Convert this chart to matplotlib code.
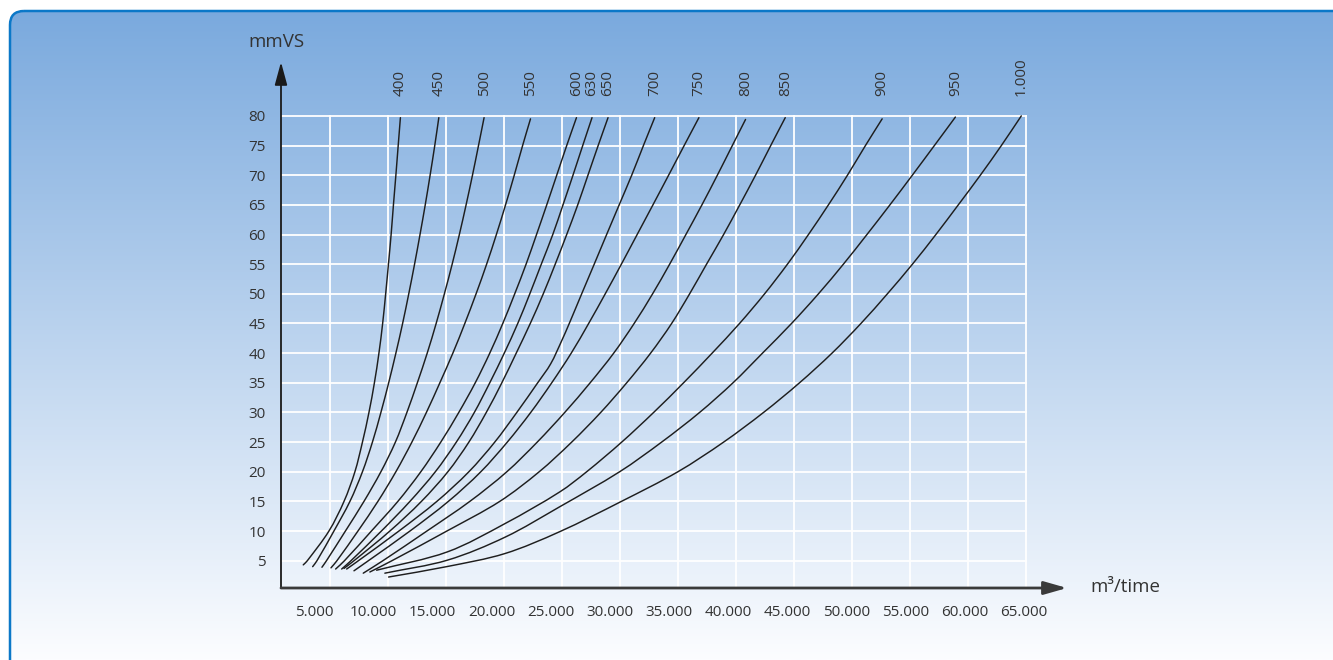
import numpy as np
import matplotlib
matplotlib.use("Agg")
import matplotlib.pyplot as plt
from matplotlib.patches import FancyBboxPatch, PathPatch
from matplotlib.path import Path
import matplotlib.transforms as mtransforms

plt.rcParams['font.family'] = ['Open Sans', 'DejaVu Sans']

# ---------------- data (flow m3/time, pressure mmVS) ----------------
curve_labels = ['400', '450', '500', '550', '600', '630', '650', '700',
                '750', '800', '850', '900', '950', '1.000']

flow_400 = [2700, 3050, 4910, 6210, 7150, 7800, 8360, 8830, 9220, 9540, 9800, 10040, 10270, 10470, 10680, 10880, 11070]
head_400 = [4.3, 5, 10, 15, 20, 25, 30, 35, 40, 45, 50, 55, 60, 65, 70, 75, 79.7]

flow_450 = [3510, 3880, 5340, 6720, 7800, 8660, 9390, 10060, 10680, 11260, 11790, 12290, 12760, 13210, 13630, 14030, 14380]
head_450 = [4.0, 5, 10, 15, 20, 25, 30, 35, 40, 45, 50, 55, 60, 65, 70, 75, 79.7]

flow_500 = [4310, 4700, 6330, 7930, 9390, 10640, 11630, 12530, 13380, 14150, 14860, 15530, 16150, 16730, 17280, 17800, 18280]
head_500 = [3.9, 5, 10, 15, 20, 25, 30, 35, 40, 45, 50, 55, 60, 65, 70, 75, 79.7]

flow_550 = [5090, 5600, 7410, 9130, 10680, 12060, 13310, 14470, 15590, 16620, 17590, 18500, 19340, 20130, 20880, 21600, 22280]
head_550 = [3.8, 5, 10, 15, 20, 25, 30, 35, 40, 45, 50, 55, 60, 65, 70, 75, 79.5]

flow_600 = [5490, 6250, 8570, 10850, 12830, 14550, 16100, 17520, 18770, 19890, 20920, 21900, 22800, 23680, 24540, 25400, 26240]
head_600 = [3.6, 5, 10, 15, 20, 25, 30, 35, 40, 45, 50, 55, 60, 65, 70, 75, 79.7]

flow_630 = [6010, 6810, 9430, 11890, 14080, 15890, 17440, 18770, 20020, 21180, 22220, 23210, 24200, 25080, 25940, 26780, 27580]
head_630 = [3.6, 5, 10, 15, 20, 25, 30, 35, 40, 45, 50, 55, 60, 65, 70, 75, 79.7]

flow_650 = [6210, 7070, 10160, 12880, 15160, 16970, 18470, 19810, 21050, 22260, 23380, 24410, 25400, 26350, 27230, 28110, 28960]
head_650 = [3.7, 5, 10, 15, 20, 25, 30, 35, 40, 45, 50, 55, 60, 65, 70, 75, 79.7]

flow_700 = [6440, 7450, 10940, 14210, 16970, 19200, 21100, 22900, 24020, 24970, 25620, 26690, 27770, 28840, 29920, 31000, 32010, 32980]
head_700 = [3.6, 5, 10, 15, 20, 25, 30, 35, 38.2, 42.1, 45, 50, 55, 60, 65, 70, 75, 79.7]

flow_750 = [7070, 8310, 11890, 15200, 18000, 20280, 22300, 24110, 25790, 27290, 28720, 30110, 31470, 32830, 34180, 35520, 36790]
head_750 = [3.3, 5, 10, 15, 20, 25, 30, 35, 40, 45, 50, 55, 60, 65, 70, 75, 79.7]

flow_800 = [7870, 9560, 13350, 17050, 20240, 22860, 25230, 27420, 29450, 31210, 32800, 34270, 35670, 37050, 38380, 39670, 40810]
head_800 = [2.9, 5, 10, 15, 20, 25, 30, 35, 40, 45, 50, 55, 60, 65, 70, 75, 79.4]

flow_850 = [8440, 10340, 15070, 19630, 23030, 25830, 28330, 30570, 32630, 34440, 35990, 37450, 38920, 40310, 41670, 42980, 44230]
head_850 = [3.1, 5, 10, 15, 20, 25, 30, 35, 40, 45, 50, 55, 60, 65, 70, 75, 79.7]

flow_900 = [9020, 15130, 20120, 24800, 27120, 30140, 32890, 35470, 37930, 40290, 42450, 44420, 46230, 47950, 49590, 51140, 52580]
head_900 = [3.4, 6.5, 11.3, 16.6, 20, 25, 30, 35, 40, 45, 50, 55, 60, 65, 70, 75, 79.5]

flow_950 = [9730, 15130, 20120, 24800, 29960, 33580, 36850, 39730, 42270, 44770, 47090, 49240, 51270, 53250, 55180, 57080, 58890]
head_950 = [2.9, 5.1, 9, 14.1, 20, 25, 30, 35, 40, 45, 50, 55, 60, 65, 70, 75, 79.8]

flow_1000 = [10050, 15050, 20060, 24800, 30110, 34980, 38920, 42360, 45460, 48260, 50750, 53030, 55190, 57210, 59140, 61040, 62850, 64570]
head_1000 = [2.25, 4.0, 6.2, 9.9, 15, 20, 25, 30, 35, 40, 45, 50, 55, 60, 65, 70, 75, 80]

flows = [flow_400, flow_450, flow_500, flow_550, flow_600, flow_630, flow_650,
         flow_700, flow_750, flow_800, flow_850, flow_900, flow_950, flow_1000]
heads = [head_400, head_450, head_500, head_550, head_600, head_630, head_650,
         head_700, head_750, head_800, head_850, head_900, head_950, head_1000]

x_tick_values = [5000, 10000, 15000, 20000, 25000, 30000, 35000, 40000,
                 45000, 50000, 55000, 60000, 65000]
x_tick_labels = ['5.000', '10.000', '15.000', '20.000', '25.000', '30.000', '35.000',
                 '40.000', '45.000', '50.000', '55.000', '60.000', '65.000']
y_tick_values = [5, 10, 15, 20, 25, 30, 35, 40, 45, 50, 55, 60, 65, 70, 75, 80]

# ---------------- figure ----------------
W, H = 1333, 660
fig = plt.figure(figsize=(W / 100, H / 100), dpi=100)
fig.patch.set_facecolor('white')

bg = fig.add_axes([0, 0, 1, 1], zorder=0)
bg.set_xlim(0, W)
bg.set_ylim(H, 0)
bg.axis('off')
c_top = np.array([120, 168, 221]) / 255
c_bot = np.array([252, 253, 255]) / 255
t = np.linspace(0, 1, 512)[:, None, None]
grad = c_top + t * (c_bot - c_top)
im = bg.imshow(grad, extent=(0, W, H, 0), aspect='auto', interpolation='bilinear')
box = FancyBboxPatch((10, 11), W + 40, H + 40,
                     boxstyle='round,pad=0,rounding_size=14',
                     fc='none', ec='#0b78c8', lw=1.8)
bg.add_patch(box)
im.set_clip_path(box)

L, R, T, B = 281, 1027, 115, 588
ax = fig.add_axes([L / W, 1 - B / H, (R - L) / W, (B - T) / H], zorder=2)
ax.patch.set_alpha(0)
XLIM = (782, 65060)
YLIM = (0.4, 80.15)
ax.set_xlim(*XLIM)
ax.set_ylim(*YLIM)
for s in ax.spines.values():
    s.set_visible(False)

ax.set_xticks(x_tick_values)
ax.set_yticks(y_tick_values)
ax.grid(True, color='white', lw=1.3)
ax.set_axisbelow(True)
ax.tick_params(axis='x', length=0, labelbottom=False)
ax.tick_params(axis='y', length=0, pad=11, labelsize=11, labelcolor='#333333')


def to_label(x):
    return (np.asarray(x) - 3649) / 1.01919 + 5000


def to_data(v):
    return (np.asarray(v) - 5000) * 1.01919 + 3649


sec = ax.secondary_xaxis('bottom', functions=(to_label, to_data))
sec.set_xticks(x_tick_values)
sec.set_xticklabels(x_tick_labels)
sec.tick_params(length=0, pad=12, labelsize=11, labelcolor='#333333')
sec.spines['bottom'].set_visible(False)

# scale factors so that the smoothing works in (roughly) screen space
sx = (XLIM[1] - XLIM[0]) / (R - L)
sy = (YLIM[1] - YLIM[0]) / (B - T)


def smooth_path(xs, ys):
    P = np.column_stack([np.asarray(xs, float) / sx, np.asarray(ys, float) / sy])
    n = len(P)
    d = np.linalg.norm(np.diff(P, axis=0), axis=1)
    m = np.zeros_like(P)
    m[0] = (P[1] - P[0]) / d[0]
    m[-1] = (P[-1] - P[-2]) / d[-1]
    for i in range(1, n - 1):
        m[i] = (P[i + 1] - P[i - 1]) / (d[i - 1] + d[i])
    verts = [P[0]]
    codes = [Path.MOVETO]
    for i in range(n - 1):
        c1 = P[i] + m[i] * d[i] / 3
        c2 = P[i + 1] - m[i + 1] * d[i] / 3
        verts += [c1, c2, P[i + 1]]
        codes += [Path.CURVE4] * 3
    V = np.array(verts) * [sx, sy]
    return Path(V, codes)


for fx, hy in zip(flows, heads):
    ax.add_patch(PathPatch(smooth_path(fx, hy), fc='none', ec='#1e1e1e',
                           lw=1.05, capstyle='round'))

trans = mtransforms.blended_transform_factory(ax.transData, ax.transAxes)
for lab, fx in zip(curve_labels, flows):
    ax.text(fx[-1], 1.040, lab, transform=trans, rotation=90, ha='center',
            va='bottom', fontsize=11, color='#333333', clip_on=False)

# axis arrows
ax.annotate('', xy=(0, 1.112), xytext=(0, 0), xycoords='axes fraction',
            textcoords='axes fraction', annotation_clip=False,
            arrowprops=dict(arrowstyle='-|>,head_length=1.4,head_width=0.38',
                            color='#1a1a1a', lw=1.3, shrinkA=0, shrinkB=0,
                            mutation_scale=10))
ax.annotate('', xy=(1.0536, 0), xytext=(0, 0), xycoords='axes fraction',
            textcoords='axes fraction', annotation_clip=False,
            arrowprops=dict(arrowstyle='-|>,head_length=1.4,head_width=0.4',
                            color='#3a3a3a', lw=2.0, shrinkA=0, shrinkB=0,
                            mutation_scale=10))

fig.text(248 / W, 1 - 42 / H, 'mmVS', ha='left', va='center', fontsize=13.5, color='#333333')
fig.text(1090 / W, 1 - 587 / H, 'm³/time', ha='left', va='center', fontsize=13.5, color='#333333')

fig.savefig('out.png', dpi=100, facecolor='white')
